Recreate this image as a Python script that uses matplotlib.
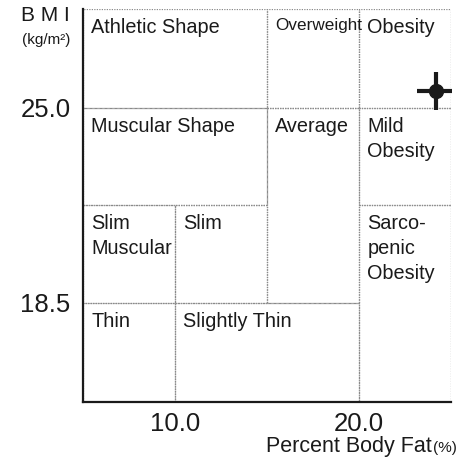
"""
plot.py
body composition chart : BMI vs percent body fat
"""

import matplotlib
matplotlib.use('Agg')
import matplotlib.pyplot as plt
from matplotlib.patches import Rectangle

plt.rcParams['font.family'] = ['Liberation Sans', 'DejaVu Sans']

## axis range
X_MIN, X_MAX = 5.0, 25.0
Y_MIN, Y_MAX = 15.2, 28.3

## regions : label, x0, x1, y0, y1
REGION_NAMES = ['Athletic Shape', 'Overweight', 'Obesity',
                'Muscular Shape', 'Average', 'Mild\nObesity',
                'Slim\nMuscular', 'Slim', 'Sarco-\npenic\nObesity',
                'Thin', 'Slightly Thin']
REGION_X0 = [5, 15, 20, 5, 15, 20, 5, 10, 20, 5, 10]
REGION_X1 = [15, 20, 25, 15, 20, 25, 10, 15, 25, 10, 20]
REGION_Y0 = [25, 25, 25, 21.75, 18.5, 21.75, 18.5, 18.5, Y_MIN, Y_MIN, Y_MIN]
REGION_Y1 = [Y_MAX, Y_MAX, Y_MAX, 25, 25, 25, 21.75, 21.75, 21.75, 18.5, 18.5]

## ticks
X_TICKS = [10.0, 20.0]
Y_TICKS = [18.5, 25.0]

## measured point
PT_FAT = 24.2
PT_BMI = 25.55


def plot_chart():
    '''
    draw chart
    '''
    fig = plt.figure(figsize=(4.69, 4.62), dpi=100)
    ax = fig.add_axes([0.177, 0.13, 0.785, 0.851])
    ax.set_xlim(X_MIN, X_MAX)
    ax.set_ylim(Y_MIN, Y_MAX)

    # region boxes
    for name, x0, x1, y0, y1 in zip(REGION_NAMES, REGION_X0, REGION_X1, REGION_Y0, REGION_Y1):
        ax.add_patch(Rectangle((x0, y0), x1 - x0, y1 - y0, fill=False,
                               edgecolor='#8a8a8a', linewidth=0.9, linestyle=(0, (1, 1))))
        size = 12.3 if name == 'Overweight' else 14.3
        ax.annotate(name, xy=(x0, y1), xytext=(6, -6.5), textcoords='offset points',
                    ha='left', va='top', fontsize=size, color='#1a1a1a', linespacing=1.38)

    # measured point
    ax.plot([PT_FAT], [PT_BMI], marker='+', markersize=27, markeredgewidth=3, color='#1a1a1a')
    ax.plot([PT_FAT], [PT_BMI], marker='o', markersize=10, color='#1a1a1a')

    # spines
    for side in ['top', 'right']:
        ax.spines[side].set_visible(False)
    for side in ['left', 'bottom']:
        ax.spines[side].set_linewidth(1.6)
        ax.spines[side].set_color('#1a1a1a')

    ax.set_xticks(X_TICKS)
    ax.set_xticklabels(['{:.1f}'.format(v) for v in X_TICKS])
    ax.set_yticks(Y_TICKS)
    ax.set_yticklabels(['{:.1f}'.format(v) for v in Y_TICKS])
    ax.tick_params(axis='both', length=0, labelsize=18.5, colors='#1a1a1a')
    ax.tick_params(axis='x', pad=7)
    ax.tick_params(axis='y', pad=9)

    # axis titles
    fig.text(0.096, 0.966, 'B M I', ha='center', va='center', fontsize=15, color='#1a1a1a')
    fig.text(0.098, 0.913, '(kg/m\u00b2)', ha='center', va='center', fontsize=11, color='#1a1a1a')
    fig.text(0.921, 0.022, 'Percent Body Fat', ha='right', va='baseline', fontsize=15.5, color='#1a1a1a')
    fig.text(0.923, 0.022, '(%)', ha='left', va='baseline', fontsize=11, color='#1a1a1a')

    fig.savefig('out.png', dpi=100)


if __name__ == '__main__':
    plot_chart()
